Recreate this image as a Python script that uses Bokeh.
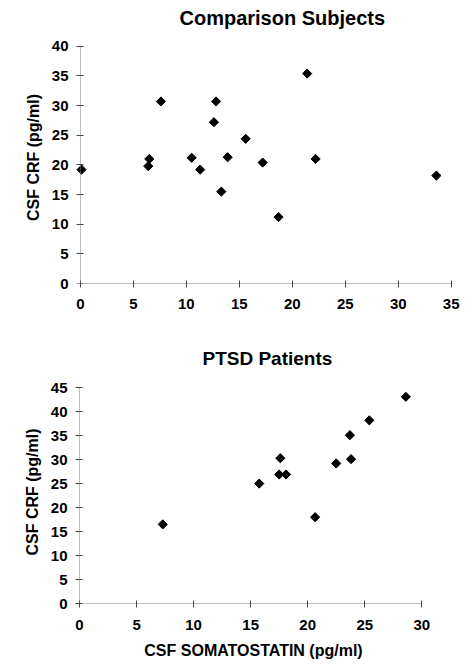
from bokeh.plotting import figure
from bokeh.models import Range1d, FixedTicker, LinearAxis
from bokeh.embed import file_html
from bokeh.resources import INLINE

# ---- data ----
comp_somatostatin = [0.1, 6.4, 6.5, 7.6, 10.5, 11.3, 12.6, 12.8, 13.3, 13.9, 15.6, 17.2, 18.7, 21.4, 22.2, 33.6]
comp_crf = [19.2, 19.8, 21.0, 30.7, 21.2, 19.2, 27.2, 30.7, 15.5, 21.3, 24.4, 20.4, 11.2, 35.4, 21.0, 18.2]

ptsd_somatostatin = [7.3, 15.75, 17.5, 17.6, 18.1, 20.65, 22.5, 23.7, 23.8, 25.4, 28.6]
ptsd_crf = [16.5, 25.0, 26.9, 30.3, 26.9, 18.0, 29.2, 35.1, 30.1, 38.2, 43.1]

comp_x_ticks = [0, 5, 10, 15, 20, 25, 30, 35]
comp_y_ticks = [0, 5, 10, 15, 20, 25, 30, 35, 40]
ptsd_x_ticks = [0, 5, 10, 15, 20, 25, 30]
ptsd_y_ticks = [0, 5, 10, 15, 20, 25, 30, 35, 40, 45]

title_comp = "Comparison Subjects"
title_ptsd = "PTSD Patients"
y_label = "CSF CRF (pg/ml)"
x_label = "CSF SOMATOSTATIN (pg/ml)"

FONT = "Liberation Sans"
AXIS_COLOR = "#7a7a7a"
TICK_COLOR = "#444444"


def style_axis(ax, ticks):
    ax.ticker = FixedTicker(ticks=ticks)
    ax.bounds = (ticks[0], ticks[-1])
    ax.axis_line_color = AXIS_COLOR
    ax.axis_line_dash = "1 1"
    ax.axis_line_width = 1
    ax.major_tick_line_color = TICK_COLOR
    ax.major_tick_in = 3
    ax.major_tick_out = 4
    ax.minor_tick_line_color = None
    ax.major_label_text_font = FONT
    ax.major_label_text_font_style = "bold"
    ax.major_label_text_font_size = "15px"
    ax.major_label_text_color = "black"
    ax.axis_label_text_font = FONT
    ax.axis_label_text_font_style = "bold"
    ax.axis_label_text_font_size = "16px"
    ax.axis_label_text_color = "black"


def style_title(p, size, offset, standoff):
    p.title.text_font = FONT
    p.title.text_font_style = "bold"
    p.title.text_font_size = size
    p.title.text_color = "black"
    p.title.align = "left"
    p.title.offset = offset
    p.title.standoff = standoff


# ---- top: comparison subjects ----
p1 = figure(width=469, height=330, x_range=Range1d(-0.75, 35.5), y_range=Range1d(0, 42.5),
            title=title_comp, output_backend="svg", toolbar_location=None,
            min_border_left=72, min_border_right=13, min_border_top=31, min_border_bottom=47)
style_title(p1, "20px", 107, 6)
p1.grid.visible = False
p1.outline_line_color = None
style_axis(p1.xaxis[0], comp_x_ticks)
p1.xaxis.major_label_standoff = 11

# axis at the frame edge: only tick labels and the axis title
ylab = p1.yaxis[0]
style_axis(ylab, comp_y_ticks)
ylab.axis_line_color = None
ylab.major_tick_line_color = None
ylab.major_tick_in = 0
ylab.major_tick_out = 0
ylab.major_label_standoff = 4
ylab.axis_label = y_label
ylab.axis_label_standoff = 7

# axis drawn at x = 0: line and ticks only (its labels are not painted)
yline = LinearAxis(fixed_location=0)
style_axis(yline, comp_y_ticks)
yline.major_label_text_color = None
yline.major_label_text_font_size = "1px"
yline.major_label_standoff = 0
p1.add_layout(yline, "left")

p1.scatter(comp_somatostatin, comp_crf, marker="square", angle=0.785398, size=6.5,
           fill_color="black", line_color="black", line_width=1)

# ---- bottom: PTSD patients ----
p2 = figure(width=469, height=342, x_range=Range1d(0, 30.5), y_range=Range1d(0, 46.5),
            title=title_ptsd, output_backend="svg", toolbar_location=None,
            min_border_left=79, min_border_right=42, min_border_top=50, min_border_bottom=69)
style_title(p2, "19px", 123, 23)
p2.grid.visible = False
p2.outline_line_color = None
style_axis(p2.xaxis[0], ptsd_x_ticks)
style_axis(p2.yaxis[0], ptsd_y_ticks)
p2.xaxis.major_label_standoff = 12
p2.xaxis.axis_label = x_label
p2.xaxis.axis_label_standoff = 9
p2.yaxis.major_label_standoff = 8
p2.yaxis.axis_label = y_label
p2.yaxis.axis_label_standoff = 7

p2.scatter(ptsd_somatostatin, ptsd_crf, marker="square", angle=0.785398, size=6.5,
           fill_color="black", line_color="black", line_width=1)

# two independent roots, stacked on the page (keeps each frame at its own place)
open("out.html", "w").write(file_html([p1, p2], INLINE))
